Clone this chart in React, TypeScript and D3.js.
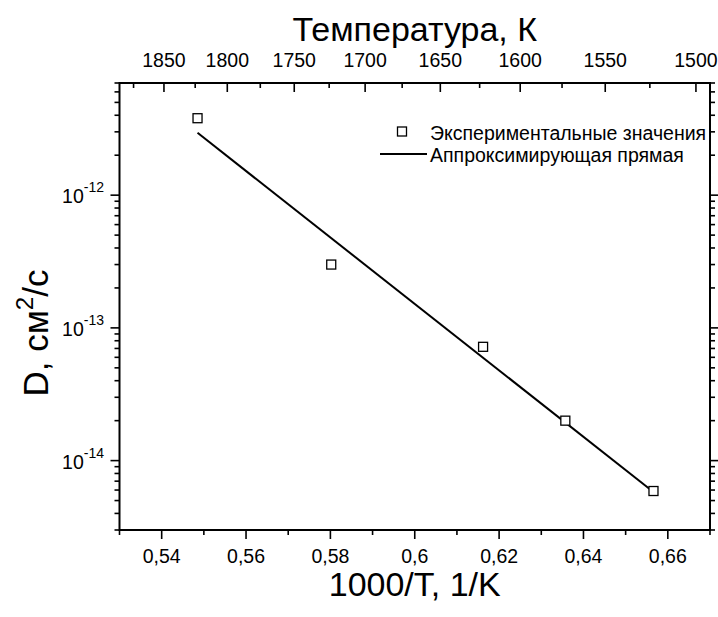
import React, { useEffect, useRef } from 'react';
import * as d3 from 'd3';

// экспериментальные точки
const invT = [0.5485, 0.5802, 0.6162, 0.6357, 0.6566];
const diffusion = [3.8e-12, 3.0e-13, 7.2e-14, 2.0e-14, 5.9e-15];

// аппроксимирующая прямая (концы)
const fitX = [0.5485, 0.6566];
const fitY = [2.95e-12, 5.8e-15];

const xMajor = [0.54, 0.56, 0.58, 0.6, 0.62, 0.64, 0.66];
const xMajorLabels = ['0,54', '0,56', '0,58', '0,6', '0,62', '0,64', '0,66'];
const tempMajor = [1850, 1800, 1750, 1700, 1650, 1600, 1550, 1500];
const tempMinor = [1875, 1825, 1775, 1725, 1675, 1625, 1575, 1525];
const yMajor = [1e-12, 1e-13, 1e-14];
const yMajorExp = ['-12', '-13', '-14'];
const legendLabels = ['Экспериментальные значения', 'Аппроксимирующая прямая'];

const FONT = '"Liberation Sans", Arial, sans-serif';

const App = () => {
    const svgRef = useRef<SVGSVGElement>(null);

    useEffect(() => {
        const width = 718;
        const height = 617;
        const left = 119.5, right = 710, top = 83, bottom = 530;

        const svg = d3.select(svgRef.current)
            .attr('width', width)
            .attr('height', height);
        svg.selectAll('*').remove();

        const x = d3.scaleLinear().domain([0.53, 0.67]).range([left, right]);
        const y = d3.scaleLog().domain([3e-15, 7e-12]).range([bottom, top]);

        const isMajorY = (v: number) => Math.abs(Math.log10(v) - Math.round(Math.log10(v))) < 1e-6;
        const isMajorX = (v: number) => xMajor.some(m => Math.abs(m - v) < 1e-6);

        const g = svg.append('g').attr('stroke', 'black').attr('stroke-width', 1.6);

        // левая и правая оси
        y.ticks().forEach(v => {
            const len = isMajorY(v) ? 9 : 5;
            const yy = y(v);
            g.append('line').attr('x1', left - len).attr('x2', left).attr('y1', yy).attr('y2', yy);
            g.append('line').attr('x1', right).attr('x2', right + len).attr('y1', yy).attr('y2', yy);
        });

        // нижняя ось
        x.ticks(14).forEach(v => {
            const len = isMajorX(v) ? 9 : 5;
            g.append('line').attr('x1', x(v)).attr('x2', x(v)).attr('y1', bottom).attr('y2', bottom + len);
        });

        // верхняя ось (температура)
        tempMajor.forEach(t => {
            g.append('line').attr('x1', x(1000 / t)).attr('x2', x(1000 / t)).attr('y1', top).attr('y2', top + 9);
        });
        tempMinor.forEach(t => {
            g.append('line').attr('x1', x(1000 / t)).attr('x2', x(1000 / t)).attr('y1', top).attr('y2', top + 5);
        });

        // рамка
        svg.append('rect')
            .attr('x', left).attr('y', top)
            .attr('width', right - left).attr('height', bottom - top)
            .attr('fill', 'none').attr('stroke', 'black').attr('stroke-width', 2);

        // подписи
        const labels = svg.append('g').attr('font-family', FONT).attr('fill', 'black');

        xMajor.forEach((v, i) => {
            labels.append('text')
                .attr('x', x(v)).attr('y', 563)
                .attr('text-anchor', 'middle').attr('font-size', 19.5)
                .text(xMajorLabels[i]);
        });

        tempMajor.forEach(t => {
            labels.append('text')
                .attr('x', x(1000 / t)).attr('y', 67)
                .attr('text-anchor', 'middle').attr('font-size', 19.5)
                .text(t);
        });

        yMajor.forEach((v, i) => {
            const t = labels.append('text')
                .attr('x', 104).attr('y', y(v) + 8)
                .attr('text-anchor', 'end').attr('font-size', 19.5);
            t.append('tspan').text('10');
            t.append('tspan').attr('dy', -11).attr('font-size', 14).text(yMajorExp[i]);
        });

        labels.append('text')
            .attr('x', (left + right) / 2).attr('y', 41)
            .attr('text-anchor', 'middle').attr('font-size', 34)
            .text('Температура, К');

        labels.append('text')
            .attr('x', (left + right) / 2).attr('y', 596)
            .attr('text-anchor', 'middle').attr('font-size', 34)
            .text('1000/T, 1/K');

        const yt = labels.append('text')
            .attr('transform', 'translate(48,333) rotate(-90)')
            .attr('text-anchor', 'middle').attr('font-size', 35);
        yt.append('tspan').text('D, см');
        yt.append('tspan').attr('dy', -15).attr('font-size', 24).text('2');
        yt.append('tspan').attr('dy', 15).text('/с');

        // прямая
        const line = d3.line<number>()
            .x((d, i) => x(fitX[i]))
            .y(d => y(d));
        svg.append('path')
            .attr('d', line(fitY))
            .attr('fill', 'none').attr('stroke', 'black').attr('stroke-width', 2);

        // точки
        svg.append('g')
            .selectAll('rect')
            .data(diffusion)
            .enter()
            .append('rect')
            .attr('x', (d, i) => x(invT[i]) - 4.5)
            .attr('y', d => y(d) - 4.5)
            .attr('width', 9).attr('height', 9)
            .attr('fill', 'white').attr('stroke', 'black').attr('stroke-width', 1.3);

        // легенда
        const legend = svg.append('g').attr('font-family', FONT);
        legend.append('rect')
            .attr('x', 397.5).attr('y', 127).attr('width', 9).attr('height', 9)
            .attr('fill', 'white').attr('stroke', 'black').attr('stroke-width', 1.3);
        legend.append('line')
            .attr('x1', 380).attr('x2', 427).attr('y1', 154).attr('y2', 154)
            .attr('stroke', 'black').attr('stroke-width', 2);
        legendLabels.forEach((l, i) => {
            legend.append('text')
                .attr('x', 430).attr('y', 140 + i * 22)
                .attr('font-size', 19.5)
                .text(l);
        });
    });

    return <svg ref={svgRef} style={{ position: 'absolute', left: 0, top: 0 }}></svg>;
};

export default App;
